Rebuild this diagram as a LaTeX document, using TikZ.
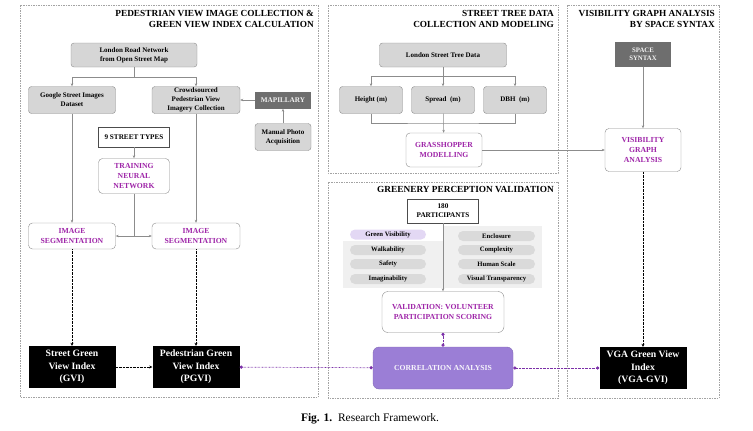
\documentclass[tikz,border=0pt]{standalone}
\usepackage{fontspec}
\setmainfont{Liberation Serif}
\usetikzlibrary{arrows.meta}
\definecolor{boxgray}{HTML}{D6D6D6}
\definecolor{linegray}{HTML}{8C8C8C}
\definecolor{darkbox}{HTML}{6E6E6E}
\definecolor{txtpurple}{HTML}{9E24A8}
\definecolor{corrfill}{HTML}{9B7ED6}
\definecolor{linkpurple}{HTML}{7B2FA8}
\definecolor{pillgray}{HTML}{DADADA}
\definecolor{pillpurple}{HTML}{E3D8F4}
\definecolor{bggray}{HTML}{F0F0F0}
\newcommand{\fsz}[2]{\fontsize{#1}{#2}\selectfont}
\begin{document}
\begin{tikzpicture}[x=1pt,y=-1pt,
  graybox/.style={draw=linegray,fill=boxgray,rounded corners=3pt,align=center,font=\bfseries\fsz{7}{8.8},inner sep=1pt},
  purplebox/.style={draw=linegray,fill=white,rounded corners=4pt,align=center,text=txtpurple,font=\bfseries\fsz{7.7}{9.8},inner sep=1pt},
  darkrect/.style={fill=darkbox,text=white!90!gray,align=center,font=\bfseries\fsz{6.8}{8},inner sep=1pt},
  blackrect/.style={fill=black,text=white,align=center,font=\bfseries\fsz{9.7}{12.5},inner sep=1pt},
  whiterect/.style={draw=black!70,fill=white,align=center,font=\bfseries\fsz{7.2}{8.8},inner sep=1pt},
  pill/.style={fill=pillgray,rounded corners=5pt,minimum height=10,inner sep=0pt,font=\bfseries\fsz{6.7}{7}},
  panel/.style={draw=linegray!80,line width=0.4pt,dash pattern=on 1.5pt off 1pt},
  title/.style={anchor=north east,align=right,font=\bfseries\fsz{9.3}{10.8},inner sep=0pt},
  line/.style={draw=linegray,line width=0.5pt},
  arr/.style={line,-{Stealth[length=3pt,width=2.5pt]}},
  dotarr/.style={draw=black,line width=0.9pt,dash pattern=on 0.6pt off 0.8pt,-{Stealth[length=3pt,width=3pt]}},
  purplink/.style={draw=linkpurple,line width=0.7pt,dash pattern=on 0.6pt off 0.8pt,{Circle[length=3.2pt]}-{Circle[length=3.2pt]}}]

\useasboundingbox (0,0) rectangle (753,431);

% panels
\draw[panel] (20,5) rectangle (318,397);
\draw[panel] (328,5) rectangle (558,173);
\draw[panel] (328,182) rectangle (558,398);
\draw[panel] (567,5) rectangle (719,398);

\node[title] (tped) at (314,10) {PEDESTRIAN VIEW IMAGE COLLECTION \&\\GREEN VIEW INDEX CALCULATION};
\node[title] (ttree) at (554,10) {STREET TREE DATA\\COLLECTION AND MODELING};
\node[title] (tvga) at (715,10) {VISIBILITY GRAPH ANALYSIS\\BY SPACE SYNTAX};
\node[title] (tperc) at (554,186) {GREENERY PERCEPTION VALIDATION};

% pedestrian view image collection
\node[graybox,minimum width=126,minimum height=24] (road) at (134,55) {London Road Network\\from Open Street Map};
\node[graybox,minimum width=87,minimum height=27] (google) at (72,100) {Google Street Images\\Dataset};
\node[graybox,minimum width=88,minimum height=27] (crowd) at (196,100) {Crowdsourced\\Pedestrian View\\Imagery Collection};
\node[darkrect,minimum width=56,minimum height=17,font=\bfseries\fsz{7.2}{8}] (mapil) at (283,100) {MAPILLARY};
\node[graybox,minimum width=56,minimum height=27] (manual) at (283,137) {Manual Photo\\Acquisition};
\node[whiterect,minimum width=71,minimum height=20] (types) at (134,137) {9 STREET TYPES};
\node[purplebox,minimum width=71,minimum height=35] (train) at (134,176) {TRAINING\\NEURAL\\NETWORK};
\node[purplebox,minimum width=87,minimum height=26] (segL) at (72,236) {IMAGE\\SEGMENTATION};
\node[purplebox,minimum width=88,minimum height=26] (segR) at (196,236) {IMAGE\\SEGMENTATION};
\node[blackrect,minimum width=87,minimum height=42] (gvi) at (72,367) {Street Green\\View Index\\(GVI)};
\node[blackrect,minimum width=87,minimum height=42] (pgvi) at (196,367) {Pedestrian Green\\View Index\\(PGVI)};

\coordinate (rsplit) at (134,77);
\draw[line] (road) -- (rsplit);
\draw[arr] (rsplit) -| (google);
\draw[arr] (rsplit) -| (crowd);
\draw[arr] (mapil) -- (crowd);
\draw[arr] (manual) -- (mapil);
\draw[arr] (types) -- (train);
\draw[arr] (google) -- (segL);
\draw[arr] (crowd) -- (segR);
\coordinate (tsplit) at (134,236);
\draw[line] (train) -- (tsplit);
\draw[arr] (tsplit) -- (segL);
\draw[arr] (tsplit) -- (segR);
\draw[dotarr] (segL) -- (gvi);
\draw[dotarr] (segR) -- (pgvi);
\draw[dotarr] (gvi) -- (pgvi);

% street tree data
\node[graybox,minimum width=127,minimum height=24] (treedata) at (443,55) {London Street Tree Data};
\node[graybox,minimum width=63,minimum height=27] (height) at (371,100) {Height (m)};
\node[graybox,minimum width=63,minimum height=27] (spread) at (443,100) {Spread\ \ (m)};
\node[graybox,minimum width=63,minimum height=27] (dbh) at (515,100) {DBH\ \ (m)};
\node[purplebox,minimum width=76,minimum height=34] (grass) at (444,150) {GRASSHOPPER\\MODELLING};

\coordinate (tsp) at (443,76);
\coordinate (tjoin) at (443,123);
\draw[line] (treedata) -- (tsp);
\draw[arr] (tsp) -| (height);
\draw[arr] (tsp) -| (dbh);
\draw[arr] (tsp) -- (spread);
\draw[line] (height) |- (tjoin) -| (dbh);
\draw[arr] (spread) -- (grass);

% visibility graph analysis
\node[darkrect,minimum width=56,minimum height=25] (space) at (643,54) {SPACE\\SYNTAX};
\node[purplebox,minimum width=76,minimum height=43] (vgabox) at (643,150) {VISIBILITY\\GRAPH\\ANALYSIS};
\node[blackrect,minimum width=87,minimum height=42] (vgagvi) at (643,368) {VGA Green View\\Index\\(VGA-GVI)};

\draw[arr] (grass) -- (vgabox);
\draw[arr] (space) -- (vgabox);
\draw[dotarr] (vgabox) -- (vgagvi);

% greenery perception validation
\fill[bggray] (343,241) rectangle (443,288);
\fill[bggray] (443,226) rectangle (542,288);
\node[whiterect,minimum width=71,minimum height=24] (part) at (443,211) {180\\PARTICIPANTS};
\node[pill,fill=pillpurple,minimum width=76] (green) at (388,234.5) {Green Visibility};
\node[pill,minimum width=76] (walk) at (388,250) {Walkability};
\node[pill,minimum width=76] (safe) at (388,264) {Safety};
\node[pill,minimum width=76] (imag) at (388,279) {Imaginability};
\node[pill,minimum width=77] (encl) at (496.5,236) {Enclosure};
\node[pill,minimum width=77] (compl) at (496.5,250) {Complexity};
\node[pill,minimum width=77] (human) at (496.5,264) {Human Scale};
\node[pill,minimum width=77] (visual) at (496.5,279) {Visual Transparency};
\node[purplebox,minimum width=122,minimum height=41,rounded corners=6pt] (valid) at (443,312) {VALIDATION:\ VOLUNTEER\\PARTICIPATION SCORING};
\node[draw=corrfill!85!black,fill=corrfill,rounded corners=6pt,minimum width=140,minimum height=42,text=white!92!corrfill,font=\bfseries\fsz{7.7}{9}] (corr) at (443,368) {CORRELATION ANALYSIS};

\draw[arr] (part) -- (valid);
\draw[purplink] (valid) -- (corr);
\draw[purplink] (pgvi) -- (corr);
\draw[purplink] (corr) -- (vgagvi);

% caption
\node[font=\fsz{11.5}{13}] (caption) at (370,419) {\textbf{Fig. 1.}\ \ Research Framework.};
\end{tikzpicture}
\end{document}
